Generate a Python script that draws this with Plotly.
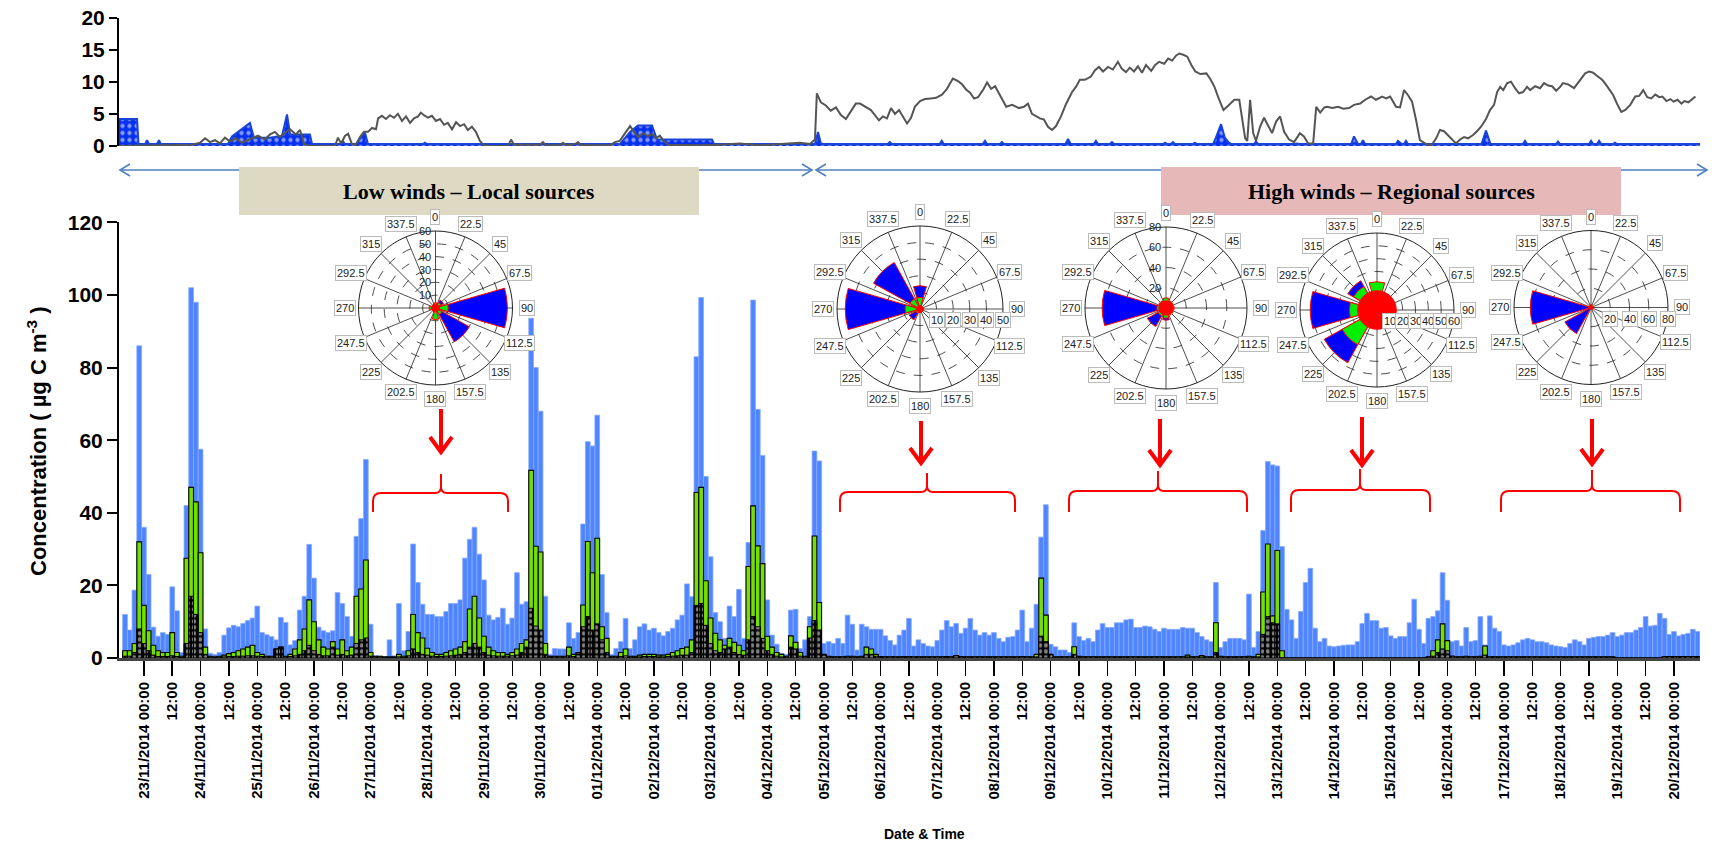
import math
from datetime import datetime, timedelta
import plotly.graph_objects as go

FIG_W, FIG_H = 1721, 846


def fx(p):
    return p / FIG_W


def fy(p):
    return 1 - p / FIG_H


# ---------------------------------------------------------------- data
first_bar_time = datetime(2014, 11, 22, 16, 0)
bar_hours = 2
origin = datetime(2014, 11, 23, 0, 0)
x_start = datetime(2014, 11, 22, 13, 27)
x_end = datetime(2014, 12, 20, 11, 2)

day_labels = ['23/11/2014', '24/11/2014', '25/11/2014', '26/11/2014', '27/11/2014',
              '28/11/2014', '29/11/2014', '30/11/2014', '01/12/2014', '02/12/2014',
              '03/12/2014', '04/12/2014', '05/12/2014', '06/12/2014', '07/12/2014',
              '08/12/2014', '09/12/2014', '10/12/2014', '11/12/2014', '12/12/2014',
              '13/12/2014', '14/12/2014', '15/12/2014', '16/12/2014', '17/12/2014',
              '18/12/2014', '19/12/2014', '20/12/2014']

# total carbon (blue bars), one value every 2 h
oc_total = [
    12, 7.7, 18.7, 86,
    36, 23, 8.5, 6, 7, 6.5, 19.6, 13, 1.5, 42, 102, 98,
    57.5, 8, 1.3, 1, 1.5, 6.3, 8.3, 9, 8.6, 9.5, 10.3, 11,
    14.3, 7, 6.4, 5.9, 5, 11.2, 9.8, 3.6, 4.8, 13.2, 17, 31.3,
    22, 8.5, 7.5, 7, 7.5, 18, 15, 11.4, 6, 33.5, 38.4, 54.7,
    9.3, 0.6, 0.5, 0.4, 5, 0.6, 15, 2, 7.3, 31.4, 20.8, 14.8,
    12, 12, 11.4, 11.4, 12.8, 15, 15, 16, 27.5, 32.7, 36, 28.6,
    21.5, 11.8, 10.5, 11.2, 13.7, 9.3, 11, 23.5, 14.8, 15.5, 93.6, 80,
    68, 17, 1, 2.6, 2.5, 2.5, 9.7, 5.4, 7, 36.9, 59.6, 58.4,
    66.9, 23, 12.5, 1, 2.6, 4.5, 10.9, 2.6, 5, 8.6, 9.4, 7.7,
    8.2, 7, 6.1, 7.3, 8.2, 10.5, 11.8, 20.4, 16.9, 83, 99.3, 50,
    27.9, 12.5, 10, 5.4, 14.3, 11.4, 18.9, 5.4, 31.8, 98.6, 68.5, 55.8,
    16, 6.3, 3.8, 1.3, 1, 13.2, 13.4, 2.6, 5, 11.4, 57, 54.3,
    4, 4.5, 4, 5.4, 4, 11.8, 9.3, 2.2, 9.3, 8.6, 7.9, 7.9,
    7.9, 6.1, 4.8, 3.6, 6.3, 7.7, 10.9, 3.3, 5, 4, 3.3, 3.1,
    4.8, 7.7, 10.3, 8.6, 9.5, 6.8, 8.2, 10.9, 7.7, 6.3, 7, 6.3,
    7, 5.4, 4.5, 5.7, 5.9, 7.7, 13.2, 4.5, 8.2, 14.8, 33.3, 42.2,
    3.8, 3.1, 2.2, 2.2, 1.5, 9.7, 5.9, 4.8, 5.4, 4.5, 7.7, 9.5,
    8.4, 8.4, 9.7, 9.7, 10.5, 10.7, 8.4, 8.4, 8.8, 8.6, 7.9, 7.3,
    8.2, 7.9, 7.9, 7.9, 8.4, 8.2, 8.2, 7, 5.9, 5, 4.5, 20.8,
    2.9, 4.5, 5.4, 5.4, 5.4, 5, 17.6, 2.9, 7.3, 35.1, 54.1, 53.2,
    52.9, 30.7, 13.4, 10.5, 5.4, 12.8, 20.8, 24.7, 8.2, 4.5, 5.4, 3.3,
    3.1, 3.3, 3.5, 3.6, 3.6, 4.5, 9.5, 12.3, 10.3, 10.3, 8.2, 8.4,
    6.1, 5.4, 5.9, 5.9, 9.7, 16.2, 7.9, 4, 10.9, 11.4, 13, 23.5,
    15.9, 4.5, 4.8, 3.3, 8.4, 4.5, 4.8, 11.4, 3.6, 11.6, 8.2, 7.3,
    3.6, 3.3, 3.6, 4.2, 5, 5.4, 5, 4.5, 4.5, 4.2, 3.6, 3.3,
    3.1, 2.9, 4, 5, 4.5, 3.6, 5.4, 5.7, 5.9, 5.9, 6.3, 7,
    5.9, 6.3, 7, 7, 7.7, 8.4, 11.4, 8.8, 9, 12.3, 10.9, 6.5,
    7.3, 6.1, 6.5, 6.8, 7.9, 7.3,
]

# green fraction
oc_green = [
    2, 2, 4, 32,
    14.5, 7.5, 3.5, 2, 1.5, 1.5, 7, 1.5, 0.5, 27.5, 47, 43,
    29, 3, 0.5, 0.3, 0.5, 0.8, 1.2, 1.5, 2, 2.5, 3, 3.5,
    1.5, 1, 0.5, 0.5, 2.5, 3, 0.5, 1, 2.5, 5, 8, 16,
    10, 5, 3, 2.5, 4.5, 2.5, 5, 2, 3, 17, 19, 27,
    1.5, 0.5, 0.5, 0.3, 0.3, 0.3, 1, 0.5, 2, 12, 7, 5.5,
    2.7, 1.5, 1, 1, 1.5, 2, 2.5, 3, 4.5, 13.5, 17, 11,
    6, 3, 2, 1.5, 1.5, 1, 1.5, 2.5, 4, 5, 51.7, 30.8,
    29.2, 4, 0.5, 0.5, 0.5, 0.5, 3, 1, 1.5, 14.6, 32.1, 23.5,
    33, 8.6, 5.4, 0.5, 0.5, 1.5, 2.5, 0.5, 0.5, 0.8, 1, 1,
    1, 0.8, 0.8, 1, 1.5, 2, 2.6, 3, 5, 45.6, 47, 21.3,
    11, 6.8, 5, 3.5, 5.4, 4.3, 3.5, 2, 25.2, 41.9, 30.9, 26,
    6, 3, 1.5, 1, 0.5, 6.1, 4.3, 1.5, 0.5, 8.6, 33.6, 15.3,
    1, 0.5, 0.3, 0.3, 0.3, 0.5, 0.5, 0.3, 0.5, 3, 2.5, 1,
    0.4, 0.3, 0.3, 0.3, 0.3, 0.4, 0.4, 0.3, 0.3, 0.3, 0.3, 0.3,
    0.3, 0.3, 0.4, 0.3, 0.7, 0.4, 0.3, 0.3, 0.3, 0.3, 0.3, 0.3,
    0.3, 0.3, 0.3, 0.3, 0.3, 0.3, 0.4, 0.3, 0.3, 1, 22, 11.8,
    1, 0.3, 0.3, 0.3, 0.3, 3.1, 0.5, 0.3, 0.3, 0.3, 0.3, 0.3,
    0.3, 0.3, 0.3, 0.3, 0.3, 0.3, 0.3, 0.3, 0.3, 0.3, 0.3, 0.3,
    0.3, 0.3, 0.3, 0.3, 0.3, 0.8, 0.3, 0.3, 0.7, 0.3, 0.3, 9.7,
    0.5, 0.3, 0.3, 0.3, 0.3, 0.3, 0.5, 0.3, 1, 18.2, 31.4, 11.6,
    29.6, 2, 0, 0, 0, 0, 0, 0, 0, 0, 0, 0,
    0, 0, 0, 0, 0, 0, 0, 0, 0, 0, 0, 0,
    0, 0, 0, 0, 0, 0, 0, 0, 0.3, 2, 5, 9.4,
    4.8, 0.5, 0.3, 0.3, 0.5, 0.3, 0.3, 0.5, 3.3, 0.3, 0.3, 0.3,
    0.3, 0.3, 0.3, 0.3, 0.3, 0.3, 0.3, 0.3, 0.3, 0.3, 0.3, 0.3,
    0.3, 0.3, 0.3, 0.3, 0.3, 0.3, 0.3, 0.3, 0.3, 0.3, 0.3, 0.3,
    0, 0, 0, 0, 0, 0, 0, 0, 0, 0, 0.3, 0.3,
    0.3, 0.3, 0.3, 0.3, 0.3, 0.3,
]

# black (patterned) fraction
oc_black = [
    0.5, 0.5, 1.5, 8,
    4, 2, 0.8, 0.4, 0.4, 0.4, 0.6, 0.4, 0.2, 4, 17, 12,
    7, 1, 0.3, 0.2, 0.3, 0.3, 0.4, 0.4, 0.5, 0.5, 0.6, 0.6,
    0.5, 0.4, 0.3, 0.3, 2.5, 3, 0.3, 0.4, 0.6, 1, 2, 3.5,
    2, 1, 0.6, 0.6, 3, 0.8, 1, 0.6, 0.8, 4, 5, 5.5,
    0.5, 0.3, 0.3, 0.2, 0.2, 0.2, 0.3, 0.2, 0.6, 2.5, 1.5, 1,
    0.8, 0.5, 0.4, 0.4, 0.5, 0.6, 0.8, 1, 1.5, 3, 4, 3,
    1.5, 0.8, 0.6, 0.5, 0.5, 0.5, 0.6, 0.8, 1.5, 3, 13.7, 8.8,
    7.7, 1, 0.3, 0.3, 0.3, 0.3, 0.6, 0.4, 1.5, 8.6, 11.4, 7.7,
    9.4, 5, 1.5, 0.3, 0.3, 0.4, 0.6, 0.3, 0.3, 0.3, 0.4, 0.4,
    0.4, 0.3, 0.3, 0.4, 0.5, 0.6, 0.8, 0.8, 1.5, 14.5, 15, 9,
    4, 2, 1.5, 2.5, 3, 1.5, 1, 0.8, 5, 11.4, 8.6, 5.4,
    2, 1, 0.5, 0.3, 0.3, 3, 2.5, 0.5, 0.3, 5.5, 10.3, 7.7,
    0.8, 0.3, 0.3, 0.3, 0.3, 0.3, 0.3, 0.3, 0.3, 1, 1, 0.5,
    0.3, 0.3, 0.3, 0.3, 0.3, 0.3, 0.3, 0.3, 0.3, 0.3, 0.3, 0.3,
    0.3, 0.3, 0.3, 0.3, 0.6, 0.3, 0.3, 0.3, 0.3, 0.3, 0.3, 0.3,
    0.3, 0.3, 0.3, 0.3, 0.3, 0.3, 0.3, 0.3, 0.3, 0.3, 6, 4.5,
    1, 0.3, 0.3, 0.3, 0.3, 1, 0.3, 0.3, 0.3, 0.3, 0.3, 0.3,
    0.3, 0.3, 0.3, 0.3, 0.3, 0.3, 0.3, 0.3, 0.3, 0.3, 0.3, 0.3,
    0.3, 0.3, 0.3, 0.3, 0.3, 0.3, 0.3, 0.3, 0.3, 0.3, 0.3, 1.5,
    0.3, 0.3, 0.3, 0.3, 0.3, 0.3, 0.3, 0.3, 0.3, 6.5, 11.4, 9.7,
    9.4, 0, 0, 0, 0, 0, 0, 0, 0, 0, 0, 0,
    0, 0, 0, 0, 0, 0, 0, 0, 0, 0, 0, 0,
    0, 0, 0, 0, 0, 0, 0, 0, 0.3, 0.5, 1.5, 2.5,
    2, 0.5, 0.3, 0.3, 0.3, 0.3, 0.3, 0.3, 0.8, 0.3, 0.3, 0.3,
    0.3, 0.3, 0.3, 0.3, 0.3, 0.3, 0.3, 0.3, 0.3, 0.3, 0.3, 0.3,
    0.3, 0.3, 0.3, 0.3, 0.3, 0.3, 0.3, 0.3, 0.3, 0.3, 0.3, 0.3,
    0, 0, 0, 0, 0, 0, 0, 0, 0, 0, 0.4, 0.4,
    0.4, 0.4, 0.4, 0.4, 0.4, 0.4,
]

# top panel: wind speed (grey line), (hours after 23/11/2014 00:00, value)
wind_obs = [
    (-11, 0), (20.5, 0.2), (23.8, 0.5), (25.9, 1.2), (28, 0.6), (30.1, 0.9), (32.2, 0.4),
    (34.3, 1.3), (36.5, 0.7), (39, 1.2), (41.5, 0.5), (44.9, 1.1), (48.3, 1.6), (51.2, 1.0),
    (53.4, 1.8), (55.5, 2.2), (57.6, 1.4), (59.8, 2.1), (61.9, 2.6), (64.4, 1.8), (66.1, 2.5),
    (67.8, 0.3), (70.3, 0), (80.9, 0), (82.2, 1.3), (83.5, 0.4), (85.2, 1.6), (86.5, 1.9),
    (88.1, 0.3), (89.8, 0.2), (91.5, 1.4), (93.2, 2.2), (94.9, 2.2), (96.6, 2.8), (98.3, 2.6),
    (99.2, 4.3), (100.8, 4.7), (102.5, 4.2), (104.2, 4.8), (105.9, 4.4), (107.6, 5.0),
    (109.3, 3.9), (111, 4.6), (112.7, 3.6), (114.4, 4.3), (116.1, 4.6), (117.3, 5.2),
    (118.6, 4.8), (120.3, 4.4), (122, 4.7), (123.7, 3.9), (125.4, 4.2), (127.1, 3.3),
    (128.7, 3.6), (130.5, 2.6), (132.2, 3.7), (133.9, 3.1), (135.6, 3.4), (137.2, 2.5),
    (138.9, 3.0), (140.6, 2.2), (142.3, 0.8), (144, 0.1), (146.6, 0), (154.2, 0),
    (155.5, 1.0), (156.7, 0.2), (167.7, 0.2), (169, 0.6), (170.3, 0.1), (176.2, 0.1),
    (177.5, 0.5), (178.8, 0.1), (182.6, 0.3), (183.9, 0.6), (185.1, 0.1), (197.4, 0.1),
    (199.5, 0.6), (201.6, 0.8), (203.8, 2.0), (205.9, 3.1), (207.6, 2.2), (209.2, 1.4),
    (211.4, 2.0), (213.5, 1.5), (215.2, 1.9), (216.9, 1.2), (218.5, 1.6), (220.2, 0.8),
    (221.9, 0.2), (235.5, 0.1), (244, 0.2), (252.4, 0.4), (260.9, 0.1), (269.4, 0.3),
    (277.8, 0.5), (282.1, 0.3), (284.2, 1.0), (285, 8.2), (286.7, 6.8), (288.8, 6.3),
    (290.9, 5.5), (293.1, 6.0), (295.2, 4.8), (297.3, 4.2), (299.4, 5.4), (301.5, 6.6),
    (303.3, 6.6), (305.4, 6.2), (307.9, 5.6), (309.6, 4.8), (311.3, 4.0), (313, 4.6),
    (314.7, 4.3), (316.4, 5.9), (318.1, 5.0), (319.8, 5.6), (321.5, 4.6), (323.2, 3.5),
    (324.9, 4.4), (326.5, 6.1), (328.7, 7.0), (330.8, 7.3), (333.3, 7.4), (335.5, 7.5),
    (338, 8.0), (340.1, 8.9), (342.6, 10.5), (344.8, 10.1), (346.5, 9.6), (348.2, 8.8),
    (349.9, 8.3), (351.6, 7.4), (353.3, 7.6), (355.5, 8.8), (357.1, 9.9), (358.8, 8.9),
    (360.5, 9.3), (362.6, 7.8), (365.2, 6.1), (367.7, 6.4), (370.6, 5.9), (372.7, 6.1),
    (374.4, 6.6), (376.1, 5.0), (377.8, 4.6), (379.5, 4.3), (381.2, 4.1), (382.9, 3.0),
    (384.6, 2.5), (386.3, 3.1), (388.4, 4.6), (390.5, 6.5), (393.1, 8.4), (394.7, 9.2),
    (396.4, 10.3), (398.5, 10.3), (401.1, 10.8), (402.8, 11.8), (404.5, 12.3), (406.2, 11.6),
    (408.3, 12.3), (410.4, 11.9), (412.5, 13.1), (414.2, 12.0), (415.9, 11.5), (417.6, 12.2),
    (419.3, 11.6), (421, 12.4), (422.7, 11.4), (424.4, 12.6), (426.6, 11.7), (428.3, 12.6),
    (430, 13.1), (432.1, 12.8), (433.8, 13.6), (435.5, 13.3), (437.2, 14.1), (438.5, 14.4),
    (440.2, 14.2), (441.9, 13.9), (443.6, 12.6), (445.3, 11.6), (447.4, 11.2), (450, 11.3),
    (451.7, 10.4), (453.4, 9.2), (455.1, 7.5), (457.2, 5.6), (459.3, 6.3), (461.8, 7.2),
    (463.9, 7.2), (465.2, 4.1), (466.4, 1.2), (467.3, 0.8), (468.5, 7.2), (469.8, 2.0),
    (471, 0.8), (472.7, 3.0), (474.4, 4.4), (476.1, 3.2), (477.8, 2.0), (479.5, 3.8),
    (481.2, 4.6), (482.9, 2.2), (485, 1.0), (487.1, 0.6), (489.6, 2.0), (491.3, 1.5),
    (493.1, 0.4), (495.2, 0.4), (496.5, 6.1), (498.2, 5.2), (499.9, 6.0), (501.1, 6.1),
    (503.3, 5.9), (505.8, 6.1), (507.9, 5.8), (510.4, 5.9), (512.5, 6.4), (515.1, 6.6),
    (517.2, 7.2), (519.7, 7.7), (521.8, 7.2), (524.4, 7.7), (526.1, 7.4), (527.8, 7.7),
    (530.3, 6.1), (532, 6.0), (533.7, 8.7), (535.4, 7.9), (537.1, 6.9), (538.8, 4.0),
    (540.4, 0.9), (542.6, 0.4), (545.1, 0), (547.3, 1.2), (548.9, 2.5), (550.6, 2.3),
    (552.3, 1.7), (554, 1.0), (555.7, 0.4), (557.4, 1.0), (559.1, 1.4), (560.8, 1.2),
    (562.9, 1.7), (564.6, 2.3), (566.3, 3.0), (568.4, 4.2), (570.1, 5.6), (571.8, 6.4),
    (573.1, 8.4), (574.4, 9.2), (575.7, 8.7), (577.4, 9.8), (579, 10.0), (580.7, 9.0),
    (582.4, 8.2), (584.1, 8.4), (585.8, 9.2), (587.1, 8.7), (589.2, 9.3), (591.3, 9.0),
    (593, 9.8), (594.7, 9.4), (596.4, 9.3), (598.1, 8.6), (599.8, 9.2), (601, 9.8),
    (603.2, 9.6), (605.7, 9.0), (607.4, 9.9), (609.1, 10.6), (610.4, 11.3), (612.1, 11.6),
    (613.8, 11.4), (615.5, 10.9), (617.6, 10.3), (619.3, 9.5), (621, 8.6), (622.3, 7.9),
    (624, 6.5), (625.7, 5.3), (627.4, 5.6), (629.5, 6.4), (631.6, 7.7), (633.3, 7.8),
    (635, 8.7), (636.7, 7.6), (638.4, 7.4), (640.1, 8.0), (641.8, 7.6), (643.1, 7.7),
    (644.8, 7.0), (646.5, 7.3), (647.8, 6.9), (649.5, 7.2), (651.2, 6.6), (652.4, 7.0),
    (654.1, 6.8), (655.8, 7.4), (657.1, 7.7),
]

# top panel: blue patterned area, (hours after 23/11/2014 00:00, value)
area_obs = [
    (-11, 4.2), (-2.9, 4.2), (-2.3, 0.3), (0.5, 0.3), (1.3, 0.9), (2.2, 0.3), (5.5, 0.3),
    (6.4, 0.9), (7.2, 0.3), (35.6, 0.3), (37.3, 1.5), (44.9, 3.6), (46.6, 1.3), (53.4, 1.3),
    (58.5, 1.6), (60.6, 4.9), (61.9, 1.8), (70.3, 1.8), (71.2, 0.3), (83.5, 0.3), (84.3, 0.7),
    (85.2, 0.3), (89.8, 0.3), (93.6, 2.1), (94.9, 0.3), (118.2, 0.3), (119, 0.5), (119.9, 0.3),
    (201.6, 0.3), (205.9, 2.2), (209.2, 3.2), (215.2, 3.2), (217.3, 1.0), (240.6, 1.0),
    (241.5, 0.3), (284.2, 0.3), (285.5, 2.2), (286.7, 0.4), (288, 0.3), (315, 0.3),
    (315.9, 0.6), (316.8, 0.3), (337, 0.3), (337.9, 0.8), (338.8, 0.3), (355.3, 0.3),
    (356.2, 0.8), (357.1, 0.3), (362.5, 0.3), (363.4, 0.6), (364.3, 0.3), (390.3, 0.3),
    (391.4, 1.1), (392.5, 0.3), (402.3, 0.3), (403.2, 0.8), (404.1, 0.3), (409.1, 0.3),
    (410, 0.6), (410.9, 0.3), (431.6, 0.3), (432.5, 0.5), (433.4, 0.3), (434.9, 0.3),
    (435.8, 0.6), (436.7, 0.3), (444.2, 0.3), (445.1, 0.5), (446, 0.3), (452.8, 0.3),
    (454, 1.3), (456.2, 3.4), (457.8, 1.3), (459.3, 0.6), (460.5, 0.3), (470.1, 0.3),
    (471, 0.7), (471.9, 0.3), (487.4, 0.3), (488.3, 0.4), (489.2, 0.3), (511.3, 0.3),
    (512.5, 1.5), (514.2, 0.3), (515.4, 0.3), (516.3, 0.9), (517.2, 0.3), (530.2, 0.3),
    (531.1, 0.8), (532.8, 0.3), (533.6, 0.3), (534.5, 0.8), (535.4, 0.3), (566.5, 0.3),
    (568.4, 2.4), (570.3, 0.3), (584, 0.3), (584.9, 0.8), (585.8, 0.3), (598, 0.3),
    (598.9, 0.7), (599.8, 0.3), (612, 0.3), (612.9, 0.8), (613.8, 0.3), (615.4, 0.3),
    (616.3, 0.8), (617.2, 0.3), (622.1, 0.3), (623, 0.5), (623.9, 0.3), (659, 0.3),
]

# wind roses
rose_dirs = [0, 45, 90, 135, 180, 225, 270, 315]
rose1_blue = [0, 7, 56, 30, 0, 0, 0, 0]
rose1_green = [4, 5, 10, 6, 9, 3, 5, 3]
rose1_red = [3, 3, 3, 3, 3, 3, 3, 3]
rose2_blue = [14, 0, 0, 0, 0, 7.5, 45, 32]
rose2_green = [7, 2, 2, 2, 2, 3, 9, 7]
rose2_red = [2, 2, 2, 2, 2, 2, 2, 2]
rose3_blue = [0, 0, 0, 0, 12, 21, 63, 0]
rose3_green = [10, 8, 8, 8, 10, 9, 9, 8]
rose3_red = [7, 7, 7, 7, 7, 7, 7, 7]
rose4_blue = [0, 0, 0, 0, 0, 47, 52, 26]
rose4_green = [22, 0, 0, 0, 0, 31, 21.6, 21]
rose4_red = [15, 15, 15, 15, 15, 15, 15, 15]
rose5_blue = [0, 0, 0, 0, 0, 31, 63, 0]
rose5_green = [3, 0, 0, 0, 0, 2, 3, 0]
rose5_red = [2, 2, 2, 2, 2, 2, 2, 2]
angle_labels = ['0', '22.5', '45', '67.5', '90', '112.5', '135', '157.5', '180',
                '202.5', '225', '247.5', '270', '292.5', '315', '337.5']

assert len(oc_total) == len(oc_green) == len(oc_black)

# ---------------------------------------------------------------- figure
bar_x = [first_bar_time + timedelta(hours=bar_hours * i) for i in range(len(oc_total))]
bar_w = bar_hours * 3600 * 1000

fig = go.Figure()
fig.add_trace(go.Bar(x=bar_x, y=oc_total, width=bar_w, xaxis='x', yaxis='y',
                     marker=dict(color='#4f86ff', line=dict(color='#86a9ff', width=0.8))))
fig.add_trace(go.Bar(x=bar_x, y=oc_green, width=bar_w, xaxis='x', yaxis='y',
                     marker=dict(color='#74e000', line=dict(color='black', width=1.1))))
fig.add_trace(go.Bar(x=bar_x, y=oc_black, width=bar_w, xaxis='x', yaxis='y',
                     marker=dict(color='black',
                                 pattern=dict(shape='.', fgcolor='white', bgcolor='black',
                                              size=6, solidity=0.45),
                                 line=dict(color='black', width=1))))

area_x = [origin + timedelta(hours=h) for h, _ in area_obs]
area_v = [v for _, v in area_obs]
fig.add_trace(go.Scatter(x=area_x, y=area_v, mode='lines', xaxis='x2', yaxis='y2',
                         line=dict(color='#1a44d8', width=2), fill='tozeroy',
                         fillcolor='#0630f0',
                         fillpattern=dict(shape='.', fgcolor='white', bgcolor='#0630f0',
                                          size=7, solidity=0.3)))
wind_x = [origin + timedelta(hours=h) for h, _ in wind_obs]
wind_v = [v for _, v in wind_obs]
fig.add_trace(go.Scatter(x=wind_x, y=wind_v, mode='lines', xaxis='x2', yaxis='y2',
                         line=dict(color='#555555', width=2)))

# wind rose subplots
roses = [
    dict(c=(435.5, 308), R=77, rmax=60, rings=[10, 20, 30, 40, 50, 60], lab='north', box=False,
         blue=rose1_blue, green=rose1_green, red=rose1_red),
    dict(c=(920, 309), R=83, rmax=50, rings=[10, 20, 30, 40, 50], lab='east', box=True,
         blue=rose2_blue, green=rose2_green, red=rose2_red),
    dict(c=(1166, 308), R=81, rmax=80, rings=[20, 40, 60, 80], lab='north', box=False,
         blue=rose3_blue, green=rose3_green, red=rose3_red),
    dict(c=(1377, 310), R=77, rmax=60, rings=[10, 20, 30, 40, 50, 60], lab='east', box=True,
         blue=rose4_blue, green=rose4_green, red=rose4_red),
    dict(c=(1591, 307.5), R=77, rmax=80, rings=[20, 40, 60, 80], lab='east', box=True,
         blue=rose5_blue, green=rose5_green, red=rose5_red),
]

annotations = []
layout_polars = {}
for k, rs in enumerate(roses, start=1):
    name = 'polar' if k == 1 else f'polar{k}'
    cx, cy = rs['c']
    R = rs['R']
    for vals, col, wid in ((rs['blue'], '#0000ff', 32), (rs['green'], '#00ee00', 32),
                           (rs['red'], '#ff0000', 45)):
        fig.add_trace(go.Barpolar(r=vals, theta=rose_dirs, width=wid, subplot=name,
                                  marker=dict(color=col, line=dict(color='#ff0000', width=1))))
    layout_polars[name] = dict(
        domain=dict(x=[fx(cx - R), fx(cx + R)], y=[fy(cy + R), fy(cy - R)]),
        bgcolor='rgba(0,0,0,0)', barmode='overlay',
        angularaxis=dict(direction='clockwise', rotation=90, tickmode='array',
                         tickvals=[22.5 * j for j in range(16)], showticklabels=False,
                         ticks='', gridcolor='#222', gridwidth=0.8, showline=True,
                         linecolor='#222', linewidth=1, layer='above traces'),
        radialaxis=dict(range=[0, rs['rmax']], tickvals=rs['rings'], showticklabels=False,
                        ticks='', showline=False, gridcolor='#222', gridwidth=0.8,
                        griddash='dash', layer='above traces'),
    )
    # angular labels
    rl = R + 14
    for j, lab in enumerate(angle_labels):
        th = math.radians(22.5 * j)
        annotations.append(dict(x=fx(cx + rl * math.sin(th)), y=fy(cy - rl * math.cos(th)),
                                xref='paper', yref='paper', text=lab, showarrow=False,
                                xanchor='center', yanchor='middle',
                                font=dict(size=11, color='#222'), bgcolor='white',
                                bordercolor='#bbbbbb', borderwidth=1, borderpad=1))
    # radial labels
    for v in rs['rings']:
        d = v / rs['rmax'] * R
        if rs['lab'] == 'north':
            annotations.append(dict(x=fx(cx - 3), y=fy(cy - d), xref='paper', yref='paper',
                                    text=str(v), showarrow=False, xanchor='right',
                                    yanchor='middle', font=dict(size=11, color='#222')))
        else:
            annotations.append(dict(x=fx(cx + d), y=fy(cy + 11), xref='paper', yref='paper',
                                    text=str(v), showarrow=False, xanchor='center',
                                    yanchor='middle', font=dict(size=11, color='#222'),
                                    bgcolor='white',
                                    bordercolor='#bbbbbb' if rs['box'] else 'rgba(0,0,0,0)',
                                    borderwidth=1, borderpad=1))

# ---------------------------------------------------------------- shapes
shapes = []
arrow_blue = '#4f81bd'
for x0, x1 in ((120, 812), (816, 1707)):
    shapes.append(dict(type='line', xref='paper', yref='paper', x0=fx(x0), x1=fx(x1),
                       y0=fy(170), y1=fy(170), line=dict(color=arrow_blue, width=1.6)))
    for xe, s in ((x0, 1), (x1, -1)):
        path = (f'M {fx(xe + s * 10)},{fy(164)} L {fx(xe)},{fy(170)} '
                f'L {fx(xe + s * 10)},{fy(176)}')
        shapes.append(dict(type='path', xref='paper', yref='paper', path=path,
                           line=dict(color=arrow_blue, width=1.6)))

shapes.append(dict(type='rect', xref='paper', yref='paper', x0=fx(239), x1=fx(699),
                   y0=fy(215), y1=fy(167), fillcolor='#ddd9c3', line=dict(width=0)))
shapes.append(dict(type='rect', xref='paper', yref='paper', x0=fx(1161), x1=fx(1621),
                   y0=fy(215), y1=fy(167), fillcolor='#e6b9b8', line=dict(width=0)))

red_arrows = [(441, 409, 452), (921, 421, 463), (1160, 419, 465), (1362, 417, 465),
              (1592, 419, 464)]
for x, y0, y1 in red_arrows:
    shapes.append(dict(type='line', xref='paper', yref='paper', x0=fx(x), x1=fx(x),
                       y0=fy(y0), y1=fy(y1 - 2), line=dict(color='#ff0000', width=4)))
    path = f'M {fx(x - 11)},{fy(y1 - 15)} L {fx(x)},{fy(y1)} L {fx(x + 11)},{fy(y1 - 15)}'
    shapes.append(dict(type='path', xref='paper', yref='paper', path=path,
                       line=dict(color='#ff0000', width=4)))

braces = [(373, 508, 441, 474, 493, 512), (840, 1015, 927, 473, 492, 512),
          (1069, 1247, 1158, 471, 491, 512), (1291, 1430, 1360, 469, 490, 512),
          (1501, 1680, 1592, 470, 491, 512)]
for x0, x1, xc, yt, ym, ye in braces:
    r = 8
    pts = [
        f'M {fx(x0)},{fy(ye)}',
        f'L {fx(x0)},{fy(ym + r)}',
        f'Q {fx(x0)},{fy(ym)} {fx(x0 + r)},{fy(ym)}',
        f'L {fx(xc - 6)},{fy(ym)}',
        f'Q {fx(xc)},{fy(ym)} {fx(xc)},{fy(ym - 6)}',
        f'L {fx(xc)},{fy(yt)}',
        f'L {fx(xc)},{fy(ym - 6)}',
        f'Q {fx(xc)},{fy(ym)} {fx(xc + 6)},{fy(ym)}',
        f'L {fx(x1 - r)},{fy(ym)}',
        f'Q {fx(x1)},{fy(ym)} {fx(x1)},{fy(ym + r)}',
        f'L {fx(x1)},{fy(ye)}',
    ]
    shapes.append(dict(type='path', xref='paper', yref='paper', path=' '.join(pts),
                       line=dict(color='#ff0000', width=2)))

# ---------------------------------------------------------------- texts
serif = 'Liberation Serif, Times New Roman, serif'
annotations.append(dict(x=fx(469), y=fy(191), xref='paper', yref='paper', showarrow=False,
                        xanchor='center', yanchor='middle',
                        text='Low winds \u2013 Local sources',
                        font=dict(family=serif, size=22, weight='bold', color='black')))
annotations.append(dict(x=fx(1391), y=fy(191), xref='paper', yref='paper', showarrow=False,
                        xanchor='center', yanchor='middle',
                        text='High winds \u2013 Regional sources',
                        font=dict(family=serif, size=22, weight='bold', color='black')))
annotations.append(dict(x=fx(37), y=fy(441), xref='paper', yref='paper', showarrow=False,
                        xanchor='center', yanchor='middle', textangle=-90,
                        text='Concentration ( \u00b5g C m<sup>-3</sup> )',
                        font=dict(size=22, weight='bold', color='black')))
annotations.append(dict(x=fx(924), y=fy(834), xref='paper', yref='paper', showarrow=False,
                        xanchor='center', yanchor='middle',
                        text='Date & Time', font=dict(size=14, weight='bold', color='black')))

tick_vals, tick_text = [], []
for k, lab in enumerate(day_labels):
    tick_vals.append(origin + timedelta(days=k))
    tick_text.append(lab + ' 00:00')
    if k < len(day_labels) - 1:
        tick_vals.append(origin + timedelta(days=k, hours=12))
        tick_text.append('12:00')

fig.update_layout(
    width=FIG_W, height=FIG_H, margin=dict(l=0, r=0, t=0, b=0, pad=0), autosize=False,
    paper_bgcolor='white', plot_bgcolor='white', showlegend=False,
    barmode='overlay', bargap=0, hovermode=False,
    font=dict(family='Liberation Sans, Arial, sans-serif', color='black'),
    xaxis=dict(domain=[fx(119), fx(1700)], range=[x_start, x_end], type='date',
               anchor='y', tickmode='array', tickvals=tick_vals, ticktext=tick_text,
               tickangle=-90, ticks='outside', ticklen=15, tickwidth=1.5, tickcolor='black',
               showline=True, linecolor='#444', linewidth=3, showgrid=False, zeroline=False,
               automargin=False, tickfont=dict(size=15, weight='bold')),
    yaxis=dict(domain=[fy(658), fy(222.4)], range=[0, 120], anchor='x',
               tickvals=[0, 20, 40, 60, 80, 100, 120], ticks='outside', ticklen=10,
               tickwidth=2, tickcolor='black', showline=True, linecolor='black', linewidth=2,
               showgrid=False, zeroline=False, automargin=False,
               tickfont=dict(size=21, weight='bold')),
    xaxis2=dict(domain=[fx(119), fx(1700)], range=[x_start, x_end], type='date',
                anchor='y2', showticklabels=False, ticks='', showline=False, showgrid=False,
                zeroline=False, automargin=False),
    yaxis2=dict(domain=[fy(146), fy(17.5)], range=[0, 20], anchor='x2',
                tickvals=[0, 5, 10, 15, 20], ticks='outside', ticklen=8, tickwidth=2,
                tickcolor='black', showline=True, linecolor='black', linewidth=2,
                showgrid=False, zeroline=False, automargin=False,
                tickfont=dict(size=21, weight='bold')),
    shapes=shapes,
    annotations=annotations,
    **layout_polars,
)

fig.write_html('out.html',
               config={'displayModeBar': False, 'staticPlot': True},
               post_script="document.body.style.margin='0px';"
                           "document.body.style.overflow='hidden';"
                           "document.documentElement.style.overflow='hidden';")
